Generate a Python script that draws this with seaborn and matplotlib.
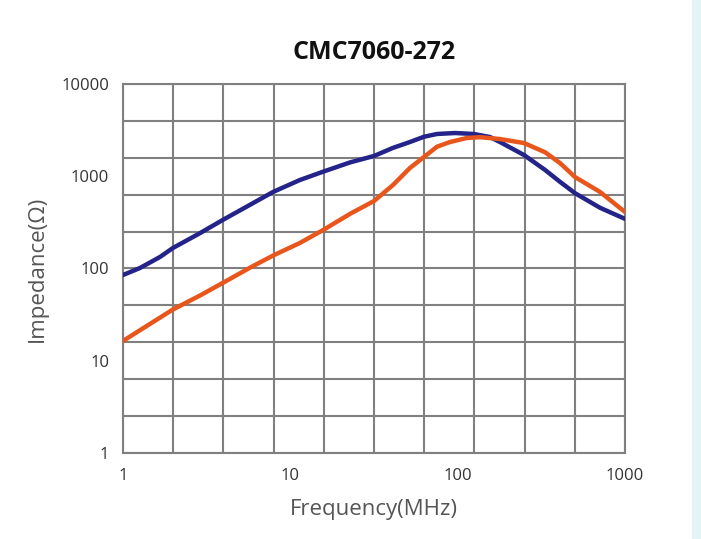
import numpy as np
import pandas as pd
import matplotlib
matplotlib.use("Agg")
import matplotlib.pyplot as plt
import matplotlib.patches as mpatches
import seaborn as sns

# Curvas (frequência em MHz, impedância em ohm)
freq_azul = [1, 1.26, 1.66, 1.99, 2.89, 3.96, 5.74, 7.88, 11.4, 15.7, 22.7, 31.7, 41.1,
             51.9, 63, 75.3, 96.5, 125, 156, 179, 249, 333, 409, 503, 710, 1000]
imp_azul = [85, 101, 133, 167, 242, 337, 490, 675, 910, 1120, 1410, 1660, 2030,
            2350, 2680, 2870, 2940, 2870, 2660, 2350, 1700, 1170, 870, 655, 455, 345]

freq_laranja = [1, 1.99, 2.89, 3.96, 5.74, 7.88, 11.4, 15.7, 22.7, 31.7, 41.1,
                51.9, 63, 75.3, 90.1, 114, 136, 179, 249, 333, 409, 503, 710, 1000]
imp_laranja = [16.4, 36, 51, 70, 102, 138, 189, 261, 390, 540, 804,
               1230, 1620, 2090, 2350, 2600, 2650, 2530, 2290, 1820, 1390, 980, 675, 410]

x_ticks = [1, 10, 100, 1000]
y_ticks = [1, 10, 100, 1000, 10000]

df = pd.concat([
    pd.DataFrame({"freq": freq_azul, "imp": imp_azul, "serie": "azul"}),
    pd.DataFrame({"freq": freq_laranja, "imp": imp_laranja, "serie": "laranja"}),
])

sns.set_style("white")
plt.rcParams["font.family"] = ["Open Sans", "DejaVu Sans"]

fig = plt.figure(figsize=(7.01, 5.39), dpi=100)
# faixa clara na borda direita
fig.patches.append(mpatches.Rectangle((0.987, 0), 0.013, 1, transform=fig.transFigure,
                                      color="#e4f3f5", zorder=0))
ax = fig.add_axes([0.1755, 0.1596, 0.716, 0.6846])

sns.lineplot(data=df, x="freq", y="imp", hue="serie", ax=ax,
             palette={"azul": "#23238a", "laranja": "#e8561c"},
             linewidth=3.2, legend=False, sort=False, zorder=3)

ax.set_xscale("log")
ax.set_yscale("log")
ax.set_xlim(1, 1000)
ax.set_ylim(1, 10000)

# Grade regular de 10x10 (como no original)
for i in range(11):
    ax.axvline(10 ** (3 * i / 10), color="#808080", lw=1.5, zorder=1)
    ax.axhline(10 ** (4 * i / 10), color="#808080", lw=1.5, zorder=1)
for s in ax.spines.values():
    s.set_color("#808080")
    s.set_linewidth(1.5)

ax.set_xticks(x_ticks)
ax.set_xticklabels([str(v) for v in x_ticks])
ax.set_yticks(y_ticks)
ax.set_yticklabels([str(v) for v in y_ticks])
ax.minorticks_off()
ax.tick_params(axis="both", length=0, labelsize=12, labelcolor="#333333")
ax.tick_params(axis="x", pad=11)
ax.tick_params(axis="y", pad=10)

ax.set_xlabel("Frequency(MHz)", fontsize=16, color="#555555")
ax.set_ylabel("Impedance(Ω)", fontsize=16, color="#555555")
ax.xaxis.set_label_coords(0.5, -0.125)
ax.yaxis.set_label_coords(-0.15, 0.5)
ax.set_title("CMC7060-272", fontsize=18, fontweight="bold", color="#111111", pad=18)

fig.savefig("out.png", dpi=100)
